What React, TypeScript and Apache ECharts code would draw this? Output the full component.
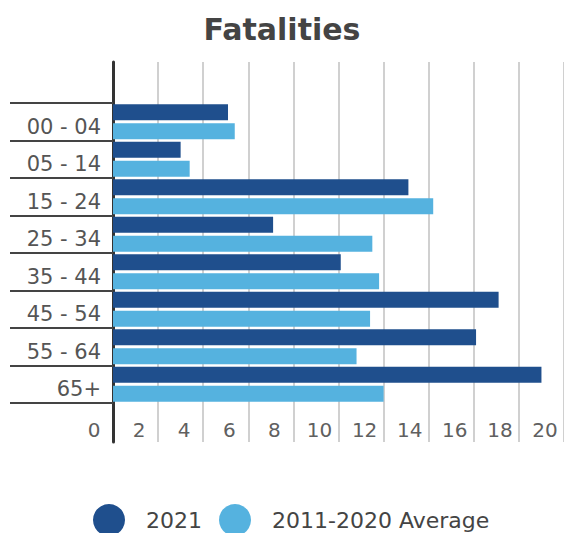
import React, { useEffect, useRef } from "react";
import * as echarts from "echarts";

const categories = ["00 - 04", "05 - 14", "15 - 24", "25 - 34", "35 - 44", "45 - 54", "55 - 64", "65+"];
const values2021 = [5.1, 3.0, 13.1, 7.1, 10.1, 17.1, 16.1, 19.0];
const valuesAvg = [5.4, 3.4, 14.2, 11.5, 11.8, 11.4, 10.8, 12.0];
const seriesNames = ["2021", "2011-2020 Average"];
const xMin = 0;
const xMax = 20;
const xInterval = 2;

const DARK = "#1f4f8d";
const LIGHT = "#55b2df";
const FONT = "DejaVu Sans";

export default function App() {
  const ref = useRef<HTMLDivElement>(null);
  useEffect(() => {
    if (!ref.current) return;
    const chart = echarts.init(ref.current, undefined, { renderer: "svg" });
    chart.setOption({
      animation: false,
      backgroundColor: "#ffffff",
      title: {
        text: "Fatalities",
        left: "center",
        top: 9,
        textStyle: { fontFamily: FONT, fontSize: 30, fontWeight: "bold", color: "#444444" },
      },
      legend: {
        data: seriesNames,
        icon: "circle",
        itemWidth: 32,
        itemHeight: 32,
        left: 88,
        top: 499,
        itemGap: 17,
        textStyle: { fontFamily: FONT, fontSize: 22, color: "#444444", padding: [0, 0, 0, 16] },
      },
      grid: [
        { left: 113, right: -5, top: 62, bottom: 91 },
        { left: 113, right: -5, top: 103, bottom: 130 },
      ],
      xAxis: [
        {
          gridIndex: 0,
          type: "value",
          min: xMin,
          max: xMax,
          interval: xInterval,
          axisLine: { show: false },
          axisTick: { show: false },
          splitLine: { show: true, lineStyle: { color: "#d0d0d0", width: 2 } },
          axisLabel: {
            margin: -22,
            fontFamily: FONT,
            fontSize: 20,
            color: "#606060",
            padding: [0, 38, 0, 0],
          },
        },
        { gridIndex: 1, type: "value", min: xMin, max: xMax, show: false },
      ],
      yAxis: [
        {
          gridIndex: 0,
          type: "value",
          min: 0,
          max: 1,
          axisLine: { show: true, lineStyle: { color: "#333333", width: 3 } },
          axisTick: { show: false },
          axisLabel: { show: false },
          splitLine: { show: false },
        },
        {
          gridIndex: 1,
          type: "category",
          data: categories,
          inverse: true,
          axisLine: { show: false },
          axisTick: { show: true, length: 103, lineStyle: { color: "#444444", width: 2 } },
          axisLabel: {
            margin: 12,
            fontFamily: FONT,
            fontSize: 21,
            color: "#555555",
            verticalAlign: "top",
            lineHeight: 10,
          },
        },
      ],
      series: [
        {
          name: seriesNames[0],
          type: "bar",
          xAxisIndex: 1,
          yAxisIndex: 1,
          data: values2021,
          barWidth: 16,
          barGap: "18%",
          itemStyle: { color: DARK },
        },
        {
          name: seriesNames[1],
          type: "bar",
          xAxisIndex: 1,
          yAxisIndex: 1,
          data: valuesAvg,
          barWidth: 16,
          barGap: "18%",
          itemStyle: { color: LIGHT },
        },
      ],
    });
    return () => chart.dispose();
  }, []);
  return (
    <div
      ref={ref}
      style={{ position: "fixed", left: 0, top: 0, width: 564, height: 533 }}
    />
  );
}
